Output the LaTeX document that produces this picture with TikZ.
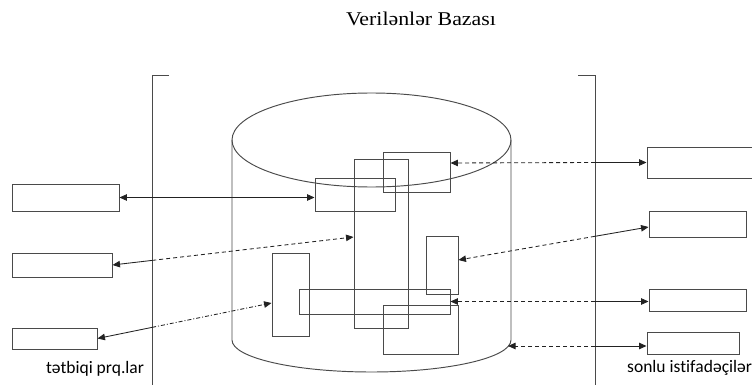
\documentclass[tikz,border=0pt]{standalone}
\usepackage{fontspec}
\setmainfont{Liberation Serif}
\newfontfamily\labelfont[Ligatures={NoCommon}]{Carlito}
\usetikzlibrary{arrows.meta,calc}
\definecolor{boxgray}{HTML}{4A4A4A}
\definecolor{arrowgray}{HTML}{222222}
\tikzset{
  box/.style={draw=boxgray, line width=0.95pt, inner sep=0pt, minimum width=#1},
  frame/.style={draw=boxgray, line width=0.95pt},
  conn/.style={draw=arrowgray, line width=0.85pt},
  tip/.style={-{Triangle[length=7.5pt,width=6.5pt]}},
  dashedconn/.style={conn, dash pattern=on 4pt off 3pt},
  dotdashconn/.style={conn, dash pattern=on 4pt off 2pt on 1pt off 2pt},
  lbl/.style={inner sep=0pt, anchor=base, font=\labelfont\fontsize{17.5}{19}\selectfont},
}
\begin{document}
\begin{tikzpicture}[x=1pt,y=-1pt]
\useasboundingbox (0,0) rectangle (752,385);
\clip (0,0) rectangle (752,385);
% title
\node[inner sep=0pt, anchor=base] (title) at (421,26) {\scalebox{1.12}[1]{\fontsize{19.5}{22}\selectfont Verilənlər Bazası}};
% brackets
\draw[frame] (169,75) -- (152,75) -- (152,390);
\draw[frame] (578,75) -- (595,75) -- (595,390);
% cylinder
\draw[frame] (371.5,140) ellipse [x radius=139.5pt, y radius=47pt];
\draw[frame] (232,140) -- (232,340) arc[start angle=180, end angle=360, x radius=139.5pt, y radius=32pt] -- (511,140);
% left boxes
\node[box=107pt, minimum height=27pt] (L1) at (65.5,197.5) {};
\node[box=100pt, minimum height=24pt] (L2) at (62,265) {};
\node[box=85pt, minimum height=21pt] (L3) at (54.5,338.5) {};
% inner boxes
\node[box=80pt, minimum height=33pt] (A) at (355,194.5) {};
\node[box=54pt, minimum height=169pt] (B) at (381,243.5) {};
\node[box=37pt, minimum height=83pt] (C) at (290.5,294.5) {};
\node[box=151pt, minimum height=25pt] (D) at (374.5,301.5) {};
\node[box=67pt, minimum height=40pt] (E) at (416.5,172) {};
\node[box=32pt, minimum height=58pt] (F) at (442,265) {};
\node[box=75pt, minimum height=49pt] (G) at (420.5,329.5) {};
% right boxes
\node[box=123pt, minimum height=31pt] (R1) at (708.5,162.5) {};
\node[box=97pt, minimum height=26pt] (R2) at (697.5,224) {};
\node[box=97pt, minimum height=22pt] (R3) at (697.5,300) {};
\node[box=92pt, minimum height=22pt] (R4) at (693,343) {};
% labels
\node[lbl] (lt) at (95,373) {tətbiqi prq.lar};
\node[lbl, anchor=base west] (rt) at (627,372) {sonlu ist\kern0pt if\kern0pt adəçilər};
% connection points
\coordinate (Bw) at ([yshift=6.5pt]B.west);
\coordinate (Cw) at ([yshift=-8.5pt]C.west);
\coordinate (Ee) at ([yshift=9pt]E.east);
\coordinate (Fe) at ([yshift=5pt]F.east);
\coordinate (R2w) at ([yshift=-3pt]R2.west);
\coordinate (cyl) at (508,346);
% crossings with the bracket lines
\coordinate (m2) at ($(L2.east)!0.165!(Bw)$);
\coordinate (m3) at ($(L3.east)!0.314!(Cw)$);
\coordinate (m4) at (595,0 |- R1.west);
\coordinate (m5) at ($(Fe)!0.717!(R2w)$);
\coordinate (m6) at (595,0 |- D.east);
\coordinate (m7) at (595,0 |- cyl);
% connectors
\draw[conn, {Triangle[length=7.5pt,width=6.5pt]}-{Triangle[length=7.5pt,width=6.5pt]}] (L1.east) -- (L1.east -| A.west);
\draw[conn, tip] (m2) -- (L2.east);
\draw[dashedconn, tip] (m2) -- (Bw);
\draw[conn, tip] (m3) -- (L3.east);
\draw[dotdashconn, tip] (m3) -- (Cw);
\draw[conn, tip] (m4) -- (R1.west);
\draw[dashedconn, tip] (m4) -- (Ee -| E.east);
\draw[conn, tip] (m5) -- (R2w);
\draw[dashedconn, tip] (m5) -- (Fe);
\draw[conn, tip] (m6) -- (m6 -| R3.west);
\draw[dashedconn, tip] (m6) -- (D.east);
\draw[conn, tip] (m7) -- (m7 -| R4.west);
\draw[dashedconn, tip] (m7) -- (cyl);
\end{tikzpicture}
\end{document}
